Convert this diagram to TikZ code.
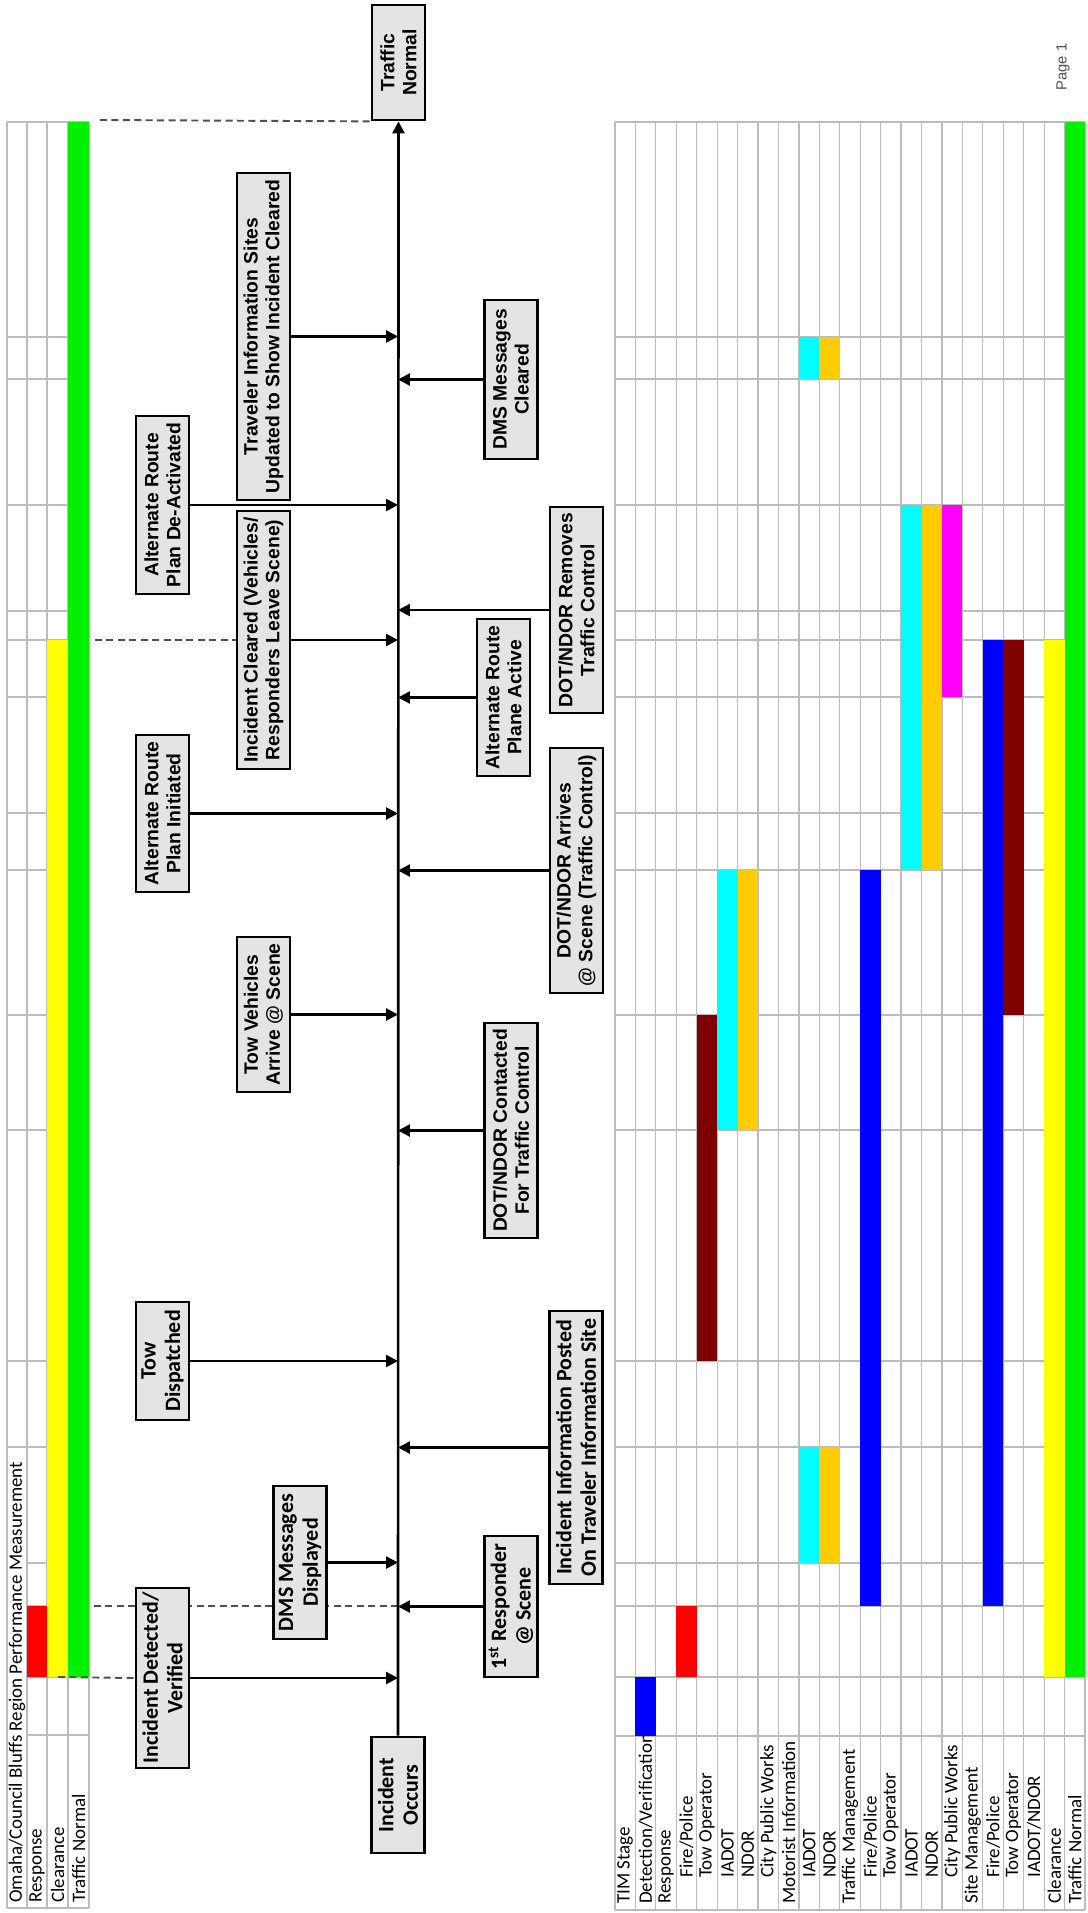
\documentclass[tikz,border=0pt]{standalone}
\usepackage{fontspec}
\newfontfamily\evfont{Liberation Sans}
\newfontfamily\calfont{Carlito}
\usetikzlibrary{arrows.meta}

\definecolor{boxgray}{RGB}{228,228,228}
\definecolor{gridgray}{RGB}{188,188,188}
\definecolor{guidegray}{RGB}{80,80,80}
\definecolor{tblue}{RGB}{0,0,255}
\definecolor{tred}{RGB}{255,0,0}
\definecolor{tdred}{RGB}{128,0,0}
\definecolor{tcyan}{RGB}{0,255,255}
\definecolor{torange}{RGB}{255,204,0}
\definecolor{tmagenta}{RGB}{255,0,255}
\definecolor{tyellow}{RGB}{255,255,0}
\definecolor{tgreen}{RGB}{0,240,0}

\tikzset{
  evbox/.style={draw, fill=boxgray, line width=1.6pt, rotate=90, align=center,
    inner sep=1pt, minimum height=1.06cm, minimum width={#1*0.02cm},
    font=\evfont\bfseries\fontsize{11}{12.5}\selectfont},
  evboxc/.style={evbox=#1, font=\calfont\bfseries\fontsize{12.5}{14}\selectfont},
  conn/.style={line width=1.5pt, -{Triangle[length=6.8pt,width=6.8pt]}},
  guide/.style={guidegray, line width=1.1pt, dash pattern=on 4pt off 2.5pt},
  gridline/.style={gridgray, line width=0.7pt},
  tlabel/.style={rotate=90, anchor=west, inner sep=0pt,
    font=\calfont\fontsize{10.8}{12}\selectfont},
}

\begin{document}
\begin{tikzpicture}[x=0.02cm,y=-0.02cm]
\fill[white] (0,0) rectangle (1088,1913);
\useasboundingbox (0,0) rectangle (1088,1913);

% upper table: grid
\foreach \xx in {7,27,47,68,89}
  \draw[gridline] (\xx,122) -- (\xx,1908);
\foreach \t in {122,337,379,505,611,640,697,813,870,1015,1130,1361,1447}
  \draw[gridline] (7,\t) -- (89,\t);
\foreach \t in {1563,1606,1677,1735}
  \draw[gridline] (27,\t) -- (89,\t);
\draw[gridline] (7,1908) -- (89,1908);

% upper table: labels
\node[tlabel] (hdr) at (17,1903) {Omaha/Council Bluffs Region Performance Measurement};
\node[tlabel] (uresp) at (37,1903) {Response};
\node[tlabel] (uclr) at (57.5,1903) {Clearance};
\node[tlabel] (unorm) at (78.5,1903) {Traffic Normal};

% upper table: bars
\fill[tred] (27,1606) rectangle (47,1677);
\fill[tyellow] (47,640) rectangle (68,1677);
\fill[tgreen] (68,122) rectangle (89,1677);

% lower table: grid
\foreach \i in {0,...,23}
  \draw[gridline] ({615+20.435*\i},122) -- ({615+20.435*\i},1910);
\foreach \t in {122,337,379,505,611,640,697,813,870,1015,1130,1361,1447,1563,1606,1677,1736,1910}
  \draw[gridline] (615,\t) -- (1085,\t);

% lower table: labels
\node[tlabel] (l0) at (625.2,1904) {TIM Stage};
\node[tlabel] (l1) at (645.7,1904) {Detection/Verification};
\node[tlabel] (l2) at (666.1,1904) {Response};
\node[tlabel] (l3) at (686.5,1878) {Fire/Police};
\node[tlabel] (l4) at (707.0,1878) {Tow Operator};
\node[tlabel] (l5) at (727.4,1878) {IADOT};
\node[tlabel] (l6) at (747.8,1878) {NDOR};
\node[tlabel] (l7) at (768.3,1878) {City Public Works};
\node[tlabel] (l8) at (788.7,1904) {Motorist Information};
\node[tlabel] (l9) at (809.2,1878) {IADOT};
\node[tlabel] (l10) at (829.6,1878) {NDOR};
\node[tlabel] (l11) at (850.0,1904) {Traffic Management};
\node[tlabel] (l12) at (870.5,1878) {Fire/Police};
\node[tlabel] (l13) at (890.9,1878) {Tow Operator};
\node[tlabel] (l14) at (911.4,1878) {IADOT};
\node[tlabel] (l15) at (931.8,1878) {NDOR};
\node[tlabel] (l16) at (952.3,1878) {City Public Works};
\node[tlabel] (l17) at (972.7,1904) {Site Management};
\node[tlabel] (l18) at (993.1,1878) {Fire/Police};
\node[tlabel] (l19) at (1013.6,1878) {Tow Operator};
\node[tlabel] (l20) at (1034.0,1878) {IADOT/NDOR};
\node[tlabel] (l21) at (1054.4,1904) {Clearance};
\node[tlabel] (l22) at (1074.9,1904) {Traffic Normal};

% lower table: bars (row/from/to/colour)
\foreach \r/\a/\b/\c in {1/1677/1736/tblue, 3/1606/1677/tred, 4/1015/1361/tdred,
    5/870/1130/tcyan, 6/870/1130/torange, 9/337/379/tcyan, 10/337/379/torange,
    9/1447/1563/tcyan, 10/1447/1563/torange, 12/870/1606/tblue,
    14/505/870/tcyan, 15/505/870/torange, 16/505/697/tmagenta,
    18/640/1606/tblue, 19/640/1015/tdred, 21/640/1677/tyellow, 22/122/1677/tgreen}
  \fill[\c] ({615+20.435*\r},\a) rectangle ({615+20.435*(\r+1)},\b);

\node[rotate=90, text=guidegray, font=\evfont\fontsize{8.4}{10}\selectfont] (pg) at (1063,67) {Page 1};

% time line
\coordinate (ax) at (398,0);
\coordinate (g1) at (58,1677);
\coordinate (g2) at (94,1606);
\coordinate (g3) at (95,640);
\coordinate (g4) at (100,120);
\draw[guide] (g2) -- (g2 -| ax);

\node[evboxc=116] (occ) at (398,1795) {Incident\\Occurs};
\node[evbox=115] (tn) at (398.5,62.5) {Traffic\\Normal};

% left events
\node[evboxc=180] (det) at (162.5,1678) {Incident Detected/\\Verified};
\node[evboxc=153] (dmsd) at (300,1562.5) {DMS Messages\\Displayed};
\node[evboxc=118] (towd) at (162.5,1361) {Tow\\Dispatched};
\node[evbox=155] (towv) at (263.5,1014.5) {Tow Vehicles\\Arrive @ Scene};
\node[evbox=157] (alti) at (162.5,813.5) {Alternate Route\\Plan Initiated};
\node[evbox=258] (clr) at (263.5,640) {Incident Cleared (Vehicles/\\Responders Leave Scene)};
\node[evbox=178] (altd) at (162.5,505) {Alternate Route\\Plan De-Activated};
\node[evbox=327] (tis) at (263.5,336.5) {Traveler Information Sites\\Updated to Show Incident Cleared};

% right events
\node[evboxc=141] (resp) at (511,1606.5) {1\textsuperscript{st} Responder\\@ Scene};
\node[evboxc=273] (post) at (576,1447.5) {Incident Information Posted\\On Traveler Information Site};
\node[evbox=215] (dotc) at (511,1130.5) {DOT/NDOR Contacted\\For Traffic Control};
\node[evbox=245] (dota) at (576.5,870.5) {DOT/NDOR Arrives\\@ Scene (Traffic Control)};
\node[evbox=157] (altp) at (503.5,697.5) {Alternate Route\\Plane Active};
\node[evbox=206] (dotr) at (576.5,610) {DOT/NDOR Removes\\Traffic Control};
\node[evbox=159] (dmsc) at (511,379.5) {DMS Messages\\Cleared};

\draw[guide] (g1) -- (det.north);
\draw[guide] (g3) -- (clr.north);
\draw[guide] (g4) -- (tn.north west);

\draw[conn] (occ.east) -- (tn.west);
\foreach \b in {det,dmsd,towd,towv,alti,clr,altd,tis}
  \draw[conn] (\b.south) -- (\b.south -| ax);
\foreach \b in {resp,post,dotc,dota,altp,dotr,dmsc}
  \draw[conn] (\b.north) -- (\b.north -| ax);
\end{tikzpicture}
\end{document}
